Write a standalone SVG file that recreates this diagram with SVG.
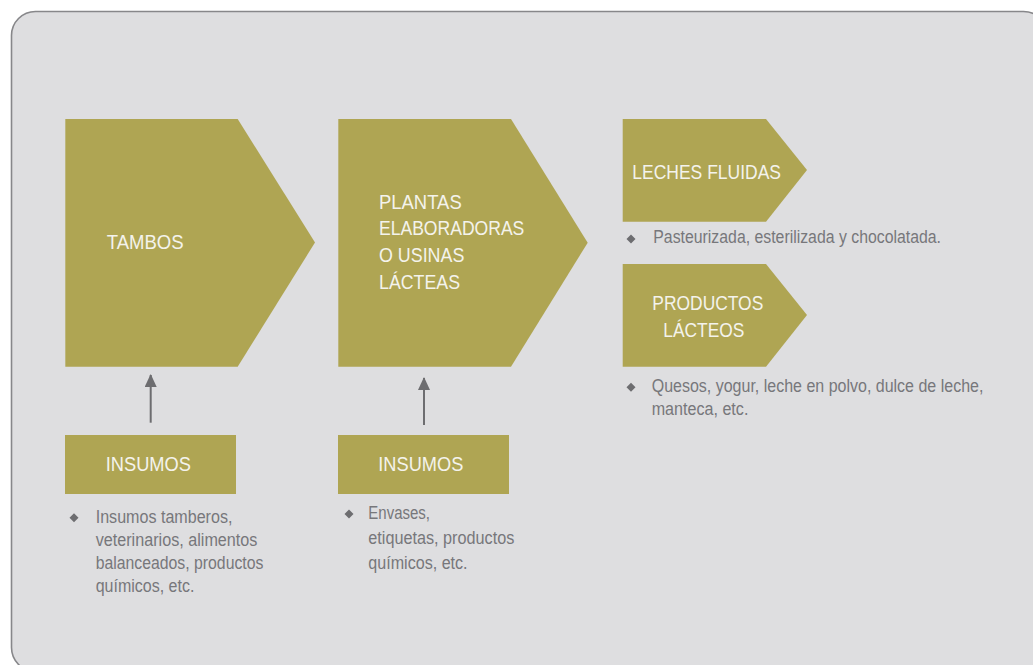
<svg xmlns="http://www.w3.org/2000/svg" width="1033" height="665" viewBox="0 0 1033 665">
<style>
.shape{fill:#afa553}
.lbl{font-family:"Liberation Sans Narrow","Liberation Sans",Arial,sans-serif;font-size:20.5px;fill:#f4f3ec}
.body{font-family:"Liberation Sans Narrow","Liberation Sans",Arial,sans-serif;font-size:17.5px;fill:#77777b}
.bullet{fill:#6d6d70}
.conn{stroke:#6d6d70;stroke-width:2;fill:none}
</style>
<defs>
<marker id="arr" markerWidth="13" markerHeight="12" refX="12" refY="6" orient="auto" markerUnits="userSpaceOnUse" viewBox="0 0 13 12">
<path d="M0,0 L13,6 L0,12 Z" fill="#6d6d70"/>
</marker>
</defs>
<rect width="1033" height="665" fill="#ffffff"/>
<rect x="11.5" y="11.5" width="1036" height="660" rx="24" ry="24" fill="#dedee0" stroke="#87878a" stroke-width="1.6"/>

<g id="tambos">
<polygon class="shape" points="65.3,119 237.7,119 315,242.5 237.7,366.7 65.3,366.7"/>
<text class="lbl" x="106.7" y="248.7" textLength="77" lengthAdjust="spacingAndGlyphs">TAMBOS</text>
</g>

<g id="plantas">
<polygon class="shape" points="338.3,119 511,119 587.7,242.7 511,366.7 338.3,366.7"/>
<text class="lbl" x="379" y="208.7" textLength="82.7" lengthAdjust="spacingAndGlyphs">PLANTAS</text>
<text class="lbl" x="379" y="235.3" textLength="145.3" lengthAdjust="spacingAndGlyphs">ELABORADORAS</text>
<text class="lbl" x="379" y="262" textLength="85.3" lengthAdjust="spacingAndGlyphs">O USINAS</text>
<text class="lbl" x="379" y="288.7" textLength="81" lengthAdjust="spacingAndGlyphs">LÁCTEAS</text>
</g>

<g id="leches">
<polygon class="shape" points="622.7,119 766,119 807,170 766,221.7 622.7,221.7"/>
<text class="lbl" x="632.3" y="179.3" textLength="148.7" lengthAdjust="spacingAndGlyphs">LECHES FLUIDAS</text>
<polygon class="bullet" points="631,234.5 635.5,239 631,243.5 626.5,239"/>
<text class="body" x="653.3" y="243.3" textLength="287.7" lengthAdjust="spacingAndGlyphs">Pasteurizada, esterilizada y chocolatada.</text>
</g>

<g id="productos">
<polygon class="shape" points="622.7,264 766,264 807,315 766,366.7 622.7,366.7"/>
<text class="lbl" x="652.3" y="310" textLength="111" lengthAdjust="spacingAndGlyphs">PRODUCTOS</text>
<text class="lbl" x="663.3" y="336.7" textLength="81" lengthAdjust="spacingAndGlyphs">LÁCTEOS</text>
<polygon class="bullet" points="631,382.8 635.5,387.3 631,391.8 626.5,387.3"/>
<text class="body" x="651.7" y="391.7" textLength="331.7" lengthAdjust="spacingAndGlyphs">Quesos, yogur, leche en polvo, dulce de leche,</text>
<text class="body" x="651.7" y="415" textLength="96.7" lengthAdjust="spacingAndGlyphs">manteca, etc.</text>
</g>

<g id="insumos1">
<rect class="shape" x="65" y="435" width="171" height="59"/>
<text class="lbl" x="105.7" y="470.7" textLength="85.3" lengthAdjust="spacingAndGlyphs">INSUMOS</text>
<polygon class="bullet" points="74,513.2 78.5,517.7 74,522.2 69.5,517.7"/>
<text class="body" x="95.7" y="523.3" textLength="136.7" lengthAdjust="spacingAndGlyphs">Insumos tamberos,</text>
<text class="body" x="95.7" y="546" textLength="161.7" lengthAdjust="spacingAndGlyphs">veterinarios, alimentos</text>
<text class="body" x="95.7" y="569" textLength="167.7" lengthAdjust="spacingAndGlyphs">balanceados, productos</text>
<text class="body" x="95.7" y="592.3" textLength="98.7" lengthAdjust="spacingAndGlyphs">químicos, etc.</text>
</g>

<g id="insumos2">
<rect class="shape" x="338" y="435" width="171" height="59"/>
<text class="lbl" x="378.3" y="470.7" textLength="85" lengthAdjust="spacingAndGlyphs">INSUMOS</text>
<polygon class="bullet" points="349,509.5 353.5,514 349,518.5 344.5,514"/>
<text class="body" x="368.3" y="519" textLength="61.7" lengthAdjust="spacingAndGlyphs">Envases,</text>
<text class="body" x="368.3" y="544" textLength="146" lengthAdjust="spacingAndGlyphs">etiquetas, productos</text>
<text class="body" x="368.3" y="569" textLength="99.3" lengthAdjust="spacingAndGlyphs">químicos, etc.</text>
</g>

<g id="connectors">
<line class="conn" x1="150.7" y1="422.7" x2="150.7" y2="375" marker-end="url(#arr)"/>
<line class="conn" x1="424" y1="425" x2="424" y2="378" marker-end="url(#arr)"/>
</g>
</svg>
